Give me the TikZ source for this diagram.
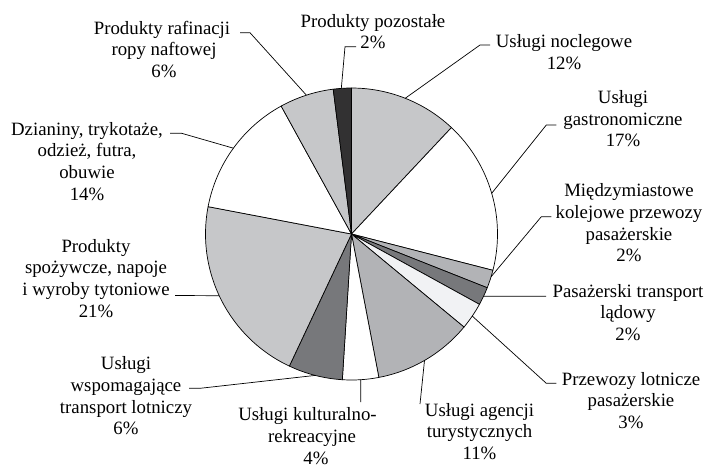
\documentclass[tikz,border=0pt]{standalone}
\usepackage{fontspec}
\setmainfont{Liberation Serif}
\definecolor{lg}{HTML}{C6C7C9}
\definecolor{mg}{HTML}{B2B3B6}
\definecolor{dg}{HTML}{77787B}
\definecolor{vl}{HTML}{F1F2F4}
\definecolor{bk}{HTML}{323132}
\newcommand\pieslice[3]{\filldraw[slice, fill=#3] (C) -- ++(#1:\R) arc[start angle=#1, end angle=#2, radius=\R] -- cycle;}
\begin{document}
\begin{tikzpicture}[x=1pt,y=-1pt,
  slice/.style={draw=black, line width=0.7pt, line join=round},
  leader/.style={draw=black, line width=0.7pt},
  lbl/.style={align=center, inner sep=0pt, font=\fontsize{18.8}{21.7}\selectfont}]
\useasboundingbox[fill=white] (0,0) rectangle (706,467);
\coordinate (C) at (351.5,234);
\def\R{146}
% slices (angles in y-down system, clockwise from top)
\pieslice{-90}{-46.8}{lg}
\pieslice{-46.8}{14.4}{white}
\pieslice{14.4}{21.6}{mg}
\pieslice{21.6}{28.8}{dg}
\pieslice{28.8}{39.6}{vl}
\pieslice{39.6}{79.2}{mg}
\pieslice{79.2}{93.6}{white}
\pieslice{93.6}{115.2}{dg}
\pieslice{115.2}{190.8}{lg}
\pieslice{190.8}{241.2}{white}
\pieslice{241.2}{262.8}{lg}
\pieslice{262.8}{270}{bk}
% labels
\node[lbl] (tpoz) at (373,31.5) {Produkty pozostałe\\2\%};
\node[lbl] (tnoc) at (564,52.2) {Usługi noclegowe\\12\%};
\node[lbl] (tgas) at (623,118.8) {Usługi\\gastronomiczne\\17\%};
\node[lbl] (tmie) at (629,223) {Międzymiastowe\\kolejowe przewozy\\pasażerskie\\2\%};
\node[lbl] (tlad) at (628,312.5) {Pasażerski transport\\lądowy\\2\%};
\node[lbl] (tlot) at (631,400.5) {Przewozy lotnicze\\pasażerskie\\3\%};
\node[lbl] (tage) at (479.5,431.5) {Usługi agencji\\turystycznych\\11\%};
\node[lbl] (tkul) at (312,436) {Usługi kulturalno-\hspace*{9pt}\\rekreacyjne\\\hspace*{8pt}4\%};
\node[lbl] (twsp) at (126,396) {Usługi\\wspomagające\\transport lotniczy\\6\%};
\node[lbl] (tspo) at (96,278.3) {Produkty\\spożywcze, napoje\\i wyroby tytoniowe\\21\%};
\node[lbl] (tdzi) at (87,161.2) {Dzianiny, trykotaże,\\odzież, futra,\\obuwie\\14\%};
\node[lbl] (traf) at (164,49.4) {Produkty rafinacji\hspace*{4pt}\\ropy naftowej\\6\%};
% leader anchor points on the circle
\path (C) ++(266:\R) coordinate (apoz);
\path (C) ++(-68.4:\R) coordinate (anoc);
\path (C) ++(-16.2:\R) coordinate (agas);
\path (C) ++(17:\R) coordinate (amie);
\path (C) ++(25.2:\R) coordinate (alad);
\path (C) ++(34.2:\R) coordinate (alot);
\path (C) ++(60:\R) coordinate (aage);
\path (C) ++(86.4:\R) coordinate (akul);
\path (C) ++(104.4:\R) coordinate (awsp);
\path (C) ++(155:\R) coordinate (aspo);
\path (C) ++(216:\R) coordinate (adzi);
\path (C) ++(252:\R) coordinate (araf);
% leader bends and ends
\coordinate (bpoz) at (345,46.7);  \coordinate (epoz) at (356,46.7);
\coordinate (bnoc) at (480,45);    \coordinate (enoc) at (490,45);
\coordinate (bgas) at (546.3,125); \coordinate (egas) at (556.3,125);
\coordinate (bmie) at (541.3,216.7); \coordinate (emie) at (551.3,216.7);
\coordinate (elad) at (546,296.2);
\coordinate (blot) at (546.3,383.3); \coordinate (elot) at (556.3,383.3);
\coordinate (eage) at (420,404);
\coordinate (ekul) at (360.7,402);
\coordinate (bwsp) at (200,388.3); \coordinate (ewsp) at (189,388.3);
\coordinate (espo) at (175,295.5);
\coordinate (bdzi) at (181.7,133.3); \coordinate (edzi) at (170,133.3);
\coordinate (braf) at (250,32.7);  \coordinate (eraf) at (240,32.7);
\draw[leader] (apoz) -- (bpoz) -- (epoz);
\draw[leader] (anoc) -- (bnoc) -- (enoc);
\draw[leader] (agas) -- (bgas) -- (egas);
\draw[leader] (amie) -- (bmie) -- (emie);
\draw[leader] (alad) -- (elad);
\draw[leader] (alot) -- (blot) -- (elot);
\draw[leader] (aage) -- (eage);
\draw[leader] (akul) -- (ekul);
\draw[leader] (awsp) -- (bwsp) -- (ewsp);
\draw[leader] (aspo) -- (espo);
\draw[leader] (adzi) -- (bdzi) -- (edzi);
\draw[leader] (araf) -- (braf) -- (eraf);
\end{tikzpicture}
\end{document}
